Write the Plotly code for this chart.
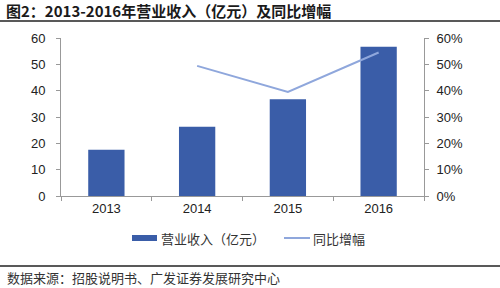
import plotly.graph_objects as go

years = ["2013", "2014", "2015", "2016"]
revenue = [17.6, 26.3, 36.7, 56.7]
growth_years = ["2014", "2015", "2016"]
growth = [0.494, 0.395, 0.545]

W, H = 500, 288
L, R, T, B = 61, 76, 38, 92
pw, ph = W - L - R, H - T - B

def px(x):
    return (x - L) / pw

def py(y):
    return (H - B - y) / ph

cjk = "Noto Sans CJK SC"
bar_color = "#3A5DA8"
line_color = "#8FA7DC"

fig = go.Figure()
fig.add_trace(go.Bar(x=years, y=revenue, name="营业收入（亿元）",
                     marker=dict(color=bar_color, line=dict(width=0)), width=0.4,
                     showlegend=False))
fig.add_trace(go.Scatter(x=growth_years, y=growth, name="同比增幅", yaxis="y2",
                         mode="lines", line=dict(color=line_color, width=2),
                         showlegend=False))

axis_font = dict(family="Liberation Sans, Arial", size=13, color="#222")
fig.update_layout(
    width=W, height=H,
    margin=dict(l=L, r=R, t=T, b=B),
    paper_bgcolor="white", plot_bgcolor="white",
    xaxis=dict(type="category", range=[-0.5, 3.5], showline=True, linecolor="#999",
               ticks="outside", ticklen=4, tickcolor="#999", tickson="boundaries",
               tickfont=axis_font, showgrid=False),
    yaxis=dict(range=[0, 60], dtick=10, showline=True, linecolor="#999",
               ticks="outside", ticklen=4, tickcolor="#999", tickfont=axis_font,
               showgrid=False, zeroline=False, ticklabelstandoff=8),
    yaxis2=dict(range=[0, 0.6], dtick=0.1, tickformat=".0%", overlaying="y", side="right",
                showline=True, linecolor="#999", ticks="outside", ticklen=4,
                tickcolor="#999", tickfont=axis_font, showgrid=False, zeroline=False,
                ticklabelstandoff=5),
)

# legend (drawn manually to match swatch shapes)
fig.add_shape(type="rect", xref="paper", yref="paper", x0=px(132), x1=px(157),
              y0=py(241), y1=py(235), fillcolor=bar_color, line=dict(width=0))
fig.add_annotation(text="营业收入（亿元）", xref="paper", yref="paper", x=px(159), y=py(238),
                   xanchor="left", yanchor="middle", showarrow=False,
                   font=dict(family=cjk, size=13, color="#333"))
fig.add_shape(type="line", xref="paper", yref="paper", x0=px(284), x1=px(310),
              y0=py(238), y1=py(238), line=dict(color=line_color, width=2))
fig.add_annotation(text="同比增幅", xref="paper", yref="paper", x=px(311), y=py(238),
                   xanchor="left", yanchor="middle", showarrow=False,
                   font=dict(family=cjk, size=13, color="#333"))

fig.add_annotation(text="<b>图2：2013-2016年营业收入（亿元）及同比增幅</b>", xref="paper", yref="paper",
                   x=px(4), y=py(11), xanchor="left", yanchor="middle", showarrow=False,
                   font=dict(family=cjk, size=15, color="#1a1a1a"))
fig.add_annotation(text="数据来源：招股说明书、广发证券发展研究中心", xref="paper", yref="paper",
                   x=px(5), y=py(277), xanchor="left", yanchor="middle", showarrow=False,
                   font=dict(family=cjk, size=13, color="#333"))
fig.add_shape(type="line", xref="paper", yref="paper", x0=px(0), x1=px(W), y0=py(21), y1=py(21),
              line=dict(color="#222", width=1.5))
fig.add_shape(type="line", xref="paper", yref="paper", x0=px(0), x1=px(W), y0=py(266), y1=py(266),
              line=dict(color="#222", width=1.5))

fig.write_html("out.html")
